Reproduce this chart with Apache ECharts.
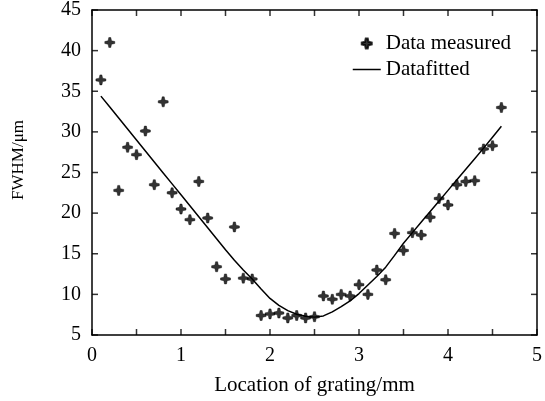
<!DOCTYPE html>
<html>
<head>
<meta charset="utf-8">
<script src="https://cdn.jsdelivr.net/npm/echarts@6/dist/echarts.min.js"></script>
<style>
  html, body { margin: 0; padding: 0; background: #fff; }
  #chart { width: 545px; height: 401px; }
</style>
</head>
<body>
<div id="chart"></div>
<script>
// Grating positions (mm)
const positions = [0.1, 0.2, 0.3, 0.4, 0.5, 0.6, 0.7, 0.8, 0.9, 1.0,
  1.1, 1.2, 1.3, 1.4, 1.5, 1.6, 1.7, 1.8, 1.9, 2.0,
  2.1, 2.2, 2.3, 2.4, 2.5, 2.6, 2.7, 2.8, 2.9, 3.0,
  3.1, 3.2, 3.3, 3.4, 3.5, 3.6, 3.7, 3.8, 3.9, 4.0,
  4.1, 4.2, 4.3, 4.4, 4.5, 4.6];

// Measured FWHM (μm)
const measured = [36.4, 41.0, 22.8, 28.1, 27.2, 30.1, 23.5, 33.7, 22.5, 20.5,
  19.2, 23.9, 19.4, 13.4, 11.9, 18.3, 12.0, 11.9, 7.4, 7.6,
  7.7, 7.1, 7.4, 7.1, 7.25, 9.8, 9.4, 10.0, 9.8, 11.2,
  10.0, 13.0, 11.8, 17.5, 15.4, 17.6, 17.3, 19.5, 21.8, 21.0,
  23.5, 23.9, 24.0, 27.9, 28.3, 33.0];

// Fitted FWHM (μm)
const fitted = [34.4, 33.05, 31.7, 30.35, 29.0, 27.65, 26.3, 24.95, 23.6, 22.25,
  20.9, 19.55, 18.2, 16.85, 15.5, 14.2, 13.0, 11.9, 10.65, 9.5,
  8.65, 8.0, 7.55, 7.3, 7.2, 7.35, 7.85, 8.5, 9.2, 10.1,
  11.15, 12.2, 13.35, 14.8, 16.3, 17.6, 18.9, 20.2, 21.5, 22.8,
  24.1, 25.4, 26.7, 28.0, 29.35, 30.7];

// Tick positions on the frame (every 0.5 mm along x, every 5 μm along y)
const xTicks = [0, 0.5, 1, 1.5, 2, 2.5, 3, 3.5, 4, 4.5, 5];
const yTicks = [5, 10, 15, 20, 25, 30, 35, 40, 45];

const xTitle = 'Location of grating/mm';
const yTitle = 'FWHM/\u03bcm';
const seriesNames = ['Data measured', 'Datafitted'];

const X_MIN = 0, X_MAX = 5, Y_MIN = 5, Y_MAX = 45;
const TICK_LEN = 6;
const TICK_W = 1.5;
const FONT = '"Liberation Serif", "Times New Roman", serif';
const starPath = 'path://M-1,-5 L1,-5 L1.7,-1.7 L5,-1 L5,1 L1.7,1.7 L1,5 L-1,5 L-1.7,1.7 L-5,1 L-5,-1 L-1.7,-1.7 Z';

function axisLine() {
  return { show: true, onZero: false, lineStyle: { color: '#000', width: 1.5 } };
}

// Short inward tick marks along one edge of the frame, drawn as thin rect symbols
function frameTicks(data, size, offset) {
  return {
    type: 'scatter',
    silent: true,
    clip: false,
    z: 4,
    symbol: 'rect',
    symbolSize: size,
    symbolOffset: offset,
    itemStyle: { color: '#000' },
    emphasis: { disabled: true },
    data: data
  };
}

const chart = echarts.init(document.getElementById('chart'), null, { renderer: 'canvas' });

chart.setOption({
  animation: false,
  backgroundColor: '#fff',
  textStyle: { fontFamily: FONT, color: '#000' },
  grid: { left: 92, right: 4, top: 10, bottom: 66, containLabel: false },
  legend: {
    orient: 'vertical',
    left: 347,
    top: 28,
    itemWidth: 28,
    itemHeight: 10,
    itemGap: 5,
    textStyle: { fontFamily: FONT, fontSize: 21, color: '#000' },
    data: [
      { name: seriesNames[0], icon: starPath },
      { name: seriesNames[1], itemStyle: { opacity: 0 }, lineStyle: { color: '#000', width: 1.5 } }
    ]
  },
  graphic: [
    {
      type: 'text',
      x: 19,
      y: 160,
      rotation: Math.PI / 2,
      style: {
        text: yTitle,
        fontFamily: FONT,
        fontSize: 17,
        fill: '#000',
        align: 'center',
        verticalAlign: 'middle'
      }
    }
  ],
  xAxis: [
    {
      type: 'value', min: X_MIN, max: X_MAX, interval: 0.5, position: 'bottom',
      name: xTitle, nameLocation: 'middle', nameGap: 40,
      nameTextStyle: { fontFamily: FONT, fontSize: 21, color: '#000' },
      axisLine: axisLine(), axisTick: { show: false }, splitLine: { show: false },
      axisLabel: {
        fontFamily: FONT, fontSize: 20, color: '#000', margin: 11,
        formatter: v => (Math.abs(v - Math.round(v)) < 1e-9 ? String(Math.round(v)) : '')
      }
    },
    {
      type: 'value', min: X_MIN, max: X_MAX, interval: 0.5, position: 'top',
      axisLine: axisLine(), axisTick: { show: false }, axisLabel: { show: false }, splitLine: { show: false }
    }
  ],
  yAxis: [
    {
      type: 'value', min: Y_MIN, max: Y_MAX, interval: 5, position: 'left',
      axisLine: axisLine(), axisTick: { show: false }, splitLine: { show: false },
      axisLabel: { fontFamily: FONT, fontSize: 20, color: '#000', margin: 11 }
    },
    {
      type: 'value', min: Y_MIN, max: Y_MAX, interval: 5, position: 'right',
      axisLine: axisLine(), axisTick: { show: false }, axisLabel: { show: false }, splitLine: { show: false }
    }
  ],
  series: [
    {
      name: seriesNames[0],
      type: 'scatter',
      symbol: starPath,
      symbolSize: 10,
      itemStyle: { color: '#000', borderColor: '#000', borderWidth: 0.5 },
      z: 3,
      data: positions.map((x, i) => [x, measured[i]])
    },
    {
      name: seriesNames[1],
      type: 'line',
      showSymbol: false,
      symbol: 'none',
      lineStyle: { color: '#000', width: 1.5 },
      itemStyle: { color: '#000' },
      z: 2,
      data: positions.map((x, i) => [x, fitted[i]])
    },
    frameTicks(xTicks.map(v => [v, Y_MIN]), [TICK_W, TICK_LEN], [0, -TICK_LEN / 2]),
    frameTicks(xTicks.map(v => [v, Y_MAX]), [TICK_W, TICK_LEN], [0, TICK_LEN / 2]),
    frameTicks(yTicks.map(v => [X_MIN, v]), [TICK_LEN, TICK_W], [TICK_LEN / 2, 0]),
    frameTicks(yTicks.map(v => [X_MAX, v]), [TICK_LEN, TICK_W], [-TICK_LEN / 2, 0])
  ]
});
</script>
</body>
</html>
